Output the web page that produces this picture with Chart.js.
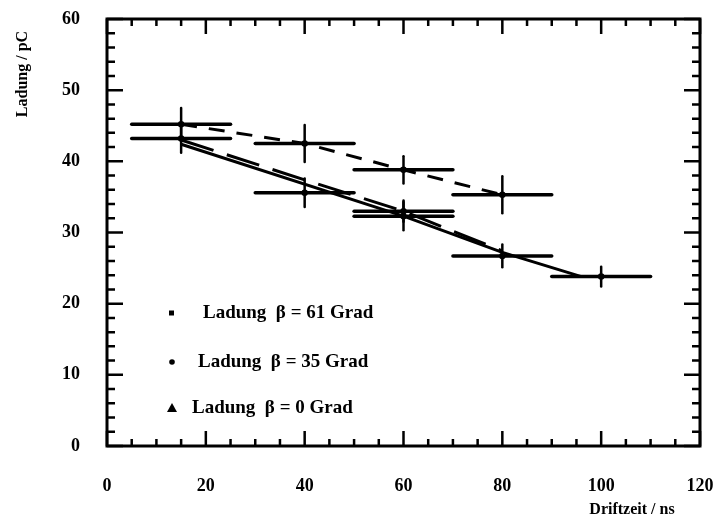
<!DOCTYPE html>
<html>
<head>
<meta charset="utf-8">
<script src="https://cdn.jsdelivr.net/npm/chart.js@4.4.1/dist/chart.umd.min.js"></script>
<style>
  html, body { margin: 0; padding: 0; background: #fff; }
  #wrap { width: 725px; height: 522px; }
</style>
</head>
<body>
<div id="wrap"><canvas id="chart1" width="725" height="522"></canvas></div>
<script>
// tick labels
const xTickValues = [0, 20, 40, 60, 80, 100, 120];
const yTickValues = [0, 10, 20, 30, 40, 50, 60];

// measured points (Driftzeit / ns, Ladung / pC)
const drift61 = [15, 40, 60, 80];
const charge61 = [45.2, 42.5, 38.8, 35.3];
const chargeErr61 = [2.3, 2.6, 1.9, 2.6];

const drift35 = [15, 40, 60];
const charge35 = [43.2, 35.6, 33.0];
const chargeErr35 = [2.0, 2.0, 1.5];

const drift0 = [60, 80, 100];
const charge0 = [32.3, 26.7, 23.8];
const chargeErr0 = [2.0, 1.6, 1.4];

const driftErr = 10;

// drawn curves
const fit35Drift = [15, 40, 60, 80];
const fit35Charge = [43.0, 37.4, 33.0, 27.4];
const fit0Drift = [15, 60, 80, 96];
const fit0Charge = [42.4, 32.3, 27.2, 23.8];

const legendLabels = ['Ladung  β = 61 Grad', 'Ladung  β = 35 Grad', 'Ladung  β = 0 Grad'];
const legendMarkers = ['rect', 'circle', 'triangle'];

const serif = '"Liberation Serif", "DejaVu Serif", serif';

function toPoints(xs, ys) {
  let arr = [];
  for (let i = 0; i < xs.length; i++) {
    arr.push({ x: xs[i], y: ys[i] });
  }
  return arr;
}

const errorSets = [
  { xs: drift61, ys: charge61, err: chargeErr61 },
  { xs: drift35, ys: charge35, err: chargeErr35 },
  { xs: drift0, ys: charge0, err: chargeErr0 }
];

const errorBars = {
  id: 'errorBars',
  afterDatasetsDraw(chart) {
    const ctx = chart.ctx;
    const sx = chart.scales.x, sy = chart.scales.y;
    ctx.save();
    ctx.strokeStyle = '#000';
    ctx.lineCap = 'round';
    for (const set of errorSets) {
      for (let i = 0; i < set.xs.length; i++) {
        const px = sx.getPixelForValue(set.xs[i]);
        const py = sy.getPixelForValue(set.ys[i]);
        ctx.lineWidth = 3.5;
        ctx.beginPath();
        ctx.moveTo(sx.getPixelForValue(set.xs[i] - driftErr), py);
        ctx.lineTo(sx.getPixelForValue(set.xs[i] + driftErr), py);
        ctx.stroke();
        ctx.lineWidth = 2.5;
        ctx.beginPath();
        ctx.moveTo(px, sy.getPixelForValue(set.ys[i] - set.err[i]));
        ctx.lineTo(px, sy.getPixelForValue(set.ys[i] + set.err[i]));
        ctx.stroke();
      }
    }
    ctx.restore();
  }
};

const frameAndText = {
  id: 'frameAndText',
  afterDraw(chart) {
    const ctx = chart.ctx;
    const a = chart.chartArea;
    const sx = chart.scales.x, sy = chart.scales.y;
    ctx.save();
    ctx.strokeStyle = '#000';
    ctx.lineWidth = 2.5;
    // inward ticks on all sides
    for (let v = 0; v <= 60; v += 2) {
      const py = sy.getPixelForValue(v);
      const len = v % 10 === 0 ? 16 : 8;
      ctx.beginPath();
      ctx.moveTo(a.left, py); ctx.lineTo(a.left + len, py);
      ctx.moveTo(a.right, py); ctx.lineTo(a.right - len, py);
      ctx.stroke();
    }
    for (let v = 0; v <= 120; v += 5) {
      const px = sx.getPixelForValue(v);
      const len = v % 20 === 0 ? 15 : 7;
      ctx.beginPath();
      ctx.moveTo(px, a.bottom); ctx.lineTo(px, a.bottom - len);
      ctx.moveTo(px, a.top); ctx.lineTo(px, a.top + len);
      ctx.stroke();
    }
    ctx.lineWidth = 3;
    ctx.strokeRect(a.left, a.top, a.right - a.left, a.bottom - a.top);

    // legend inside the plot
    ctx.fillStyle = '#000';
    ctx.font = 'bold 19px ' + serif;
    ctx.textBaseline = 'middle';
    const legendY = [313, 362, 408];
    const textX = [203, 198, 192];
    for (let i = 0; i < legendLabels.length; i++) {
      const my = legendY[i];
      ctx.beginPath();
      if (legendMarkers[i] === 'rect') {
        ctx.rect(169, my - 2.5, 5, 5);
      } else if (legendMarkers[i] === 'circle') {
        ctx.arc(172, my, 2.8, 0, Math.PI * 2);
      } else {
        ctx.moveTo(172, my - 5); ctx.lineTo(177, my + 4); ctx.lineTo(167, my + 4); ctx.closePath();
      }
      ctx.fill();
      ctx.fillText(legendLabels[i], textX[i], my);
    }

    // axis titles
    ctx.font = 'bold 16px ' + serif;
    ctx.textAlign = 'center';
    ctx.fillText('Driftzeit / ns', 632, 510);
    ctx.translate(23, 74);
    ctx.rotate(-Math.PI / 2);
    ctx.fillText('Ladung / pC', 0, 0);
    ctx.restore();
  }
};

Chart.defaults.font.family = serif;
Chart.defaults.font.weight = 'bold';
Chart.defaults.font.size = 18;
Chart.defaults.color = '#000';

const ctx = document.getElementById('chart1');
const myChart = new Chart(ctx, {
  type: 'scatter',
  data: {
    datasets: [
      {
        label: 'Ladung β = 61 Grad',
        data: toPoints(drift61, charge61),
        showLine: true,
        borderColor: '#000',
        borderWidth: 3,
        borderDash: [16, 12],
        pointStyle: 'circle',
        pointRadius: 2.5,
        pointBackgroundColor: '#fff',
        pointBorderColor: '#000',
        pointBorderWidth: 1.5
      },
      {
        label: 'Ladung β = 35 Grad',
        data: toPoints(drift35, charge35),
        showLine: false,
        pointStyle: 'circle',
        pointRadius: 2.5,
        pointBackgroundColor: '#fff',
        pointBorderColor: '#000',
        pointBorderWidth: 1.5
      },
      {
        label: 'Ladung β = 0 Grad',
        data: toPoints(drift0, charge0),
        showLine: false,
        pointStyle: 'circle',
        pointRadius: 2.5,
        pointBackgroundColor: '#fff',
        pointBorderColor: '#000',
        pointBorderWidth: 1.5
      },
      {
        label: 'fit 35',
        data: toPoints(fit35Drift, fit35Charge),
        showLine: true,
        borderColor: '#000',
        borderWidth: 3,
        borderDash: [34, 14],
        pointRadius: 0
      },
      {
        label: 'fit 0',
        data: toPoints(fit0Drift, fit0Charge),
        showLine: true,
        borderColor: '#000',
        borderWidth: 3,
        pointRadius: 0
      }
    ]
  },
  options: {
    responsive: false,
    animation: false,
    layout: { padding: { left: 0, right: 25, top: 19, bottom: 0 } },
    plugins: {
      legend: { display: false },
      tooltip: { enabled: false }
    },
    scales: {
      x: {
        type: 'linear',
        min: 0,
        max: 120,
        grid: { display: false, drawTicks: false },
        border: { display: false },
        afterBuildTicks: (scale) => { scale.ticks = xTickValues.map(v => ({ value: v })); },
        afterFit: (scale) => {
          scale.height = 76;
          scale.paddingLeft = 0;
          scale.paddingRight = 0;
        },
        ticks: { padding: 30, maxRotation: 0 }
      },
      y: {
        type: 'linear',
        min: 0,
        max: 60,
        grid: { display: false, drawTicks: false },
        border: { display: false },
        afterBuildTicks: (scale) => { scale.ticks = yTickValues.map(v => ({ value: v })); },
        afterFit: (scale) => {
          scale.width = 107;
          scale.paddingTop = 0;
          scale.paddingBottom = 0;
        },
        ticks: { padding: 27 }
      }
    }
  },
  plugins: [errorBars, frameAndText]
});
</script>
</body>
</html>
